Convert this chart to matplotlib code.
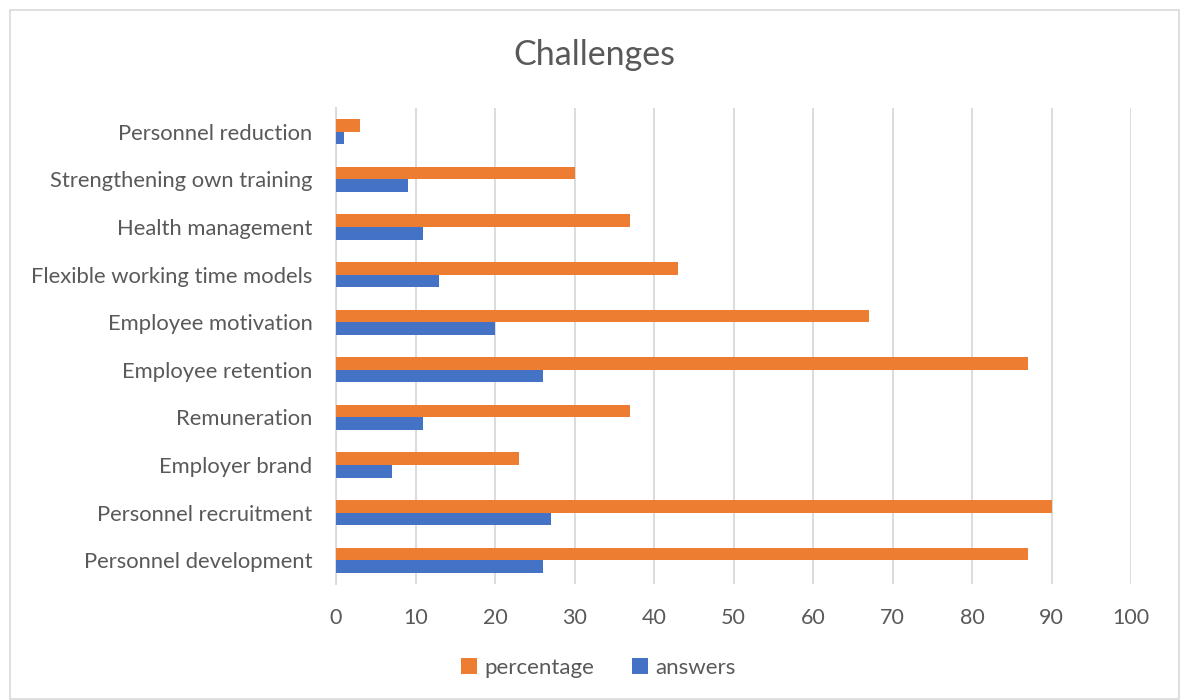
import matplotlib.pyplot as plt
import numpy as np
from matplotlib.patches import Rectangle

plt.rcParams['font.family'] = ['Lato', 'DejaVu Sans']

categories = ['Personnel development', 'Personnel recruitment', 'Employer brand',
              'Remuneration', 'Employee retention', 'Employee motivation',
              'Flexible working time models', 'Health management',
              'Strengthening own training', 'Personnel reduction']
answers = [26, 27, 7, 11, 26, 20, 13, 11, 9, 1]
percentage = [87, 90, 23, 37, 87, 67, 43, 37, 30, 3]

orange = '#ED7D31'
blue = '#4472C4'
grey_txt = '#595959'

fig = plt.figure(figsize=(11.86, 7), dpi=100)
ax = fig.add_axes([336 / 1186, 1 - 584 / 700, (1131 - 336) / 1186, (584 - 108) / 700])

y = np.arange(len(categories))
h = 0.265
ax.barh(y - h / 2, answers, height=h, color=blue, label='answers', zorder=3)
ax.barh(y + h / 2, percentage, height=h, color=orange, label='percentage', zorder=3)

ax.set_xlim(0, 100)
ax.set_ylim(-0.5, len(categories) - 0.5)
ax.set_xticks(range(0, 101, 10))
ax.set_yticks(y)
ax.set_yticklabels(categories)
ax.tick_params(axis='y', length=0, pad=17, labelsize=15.8, labelcolor=grey_txt)
ax.tick_params(axis='x', length=0, pad=17, labelsize=15.5, labelcolor=grey_txt)
ax.grid(axis='x', color='#D9D9D9', linewidth=1.3, zorder=0)
for s in ['top', 'right', 'bottom']:
    ax.spines[s].set_visible(False)
ax.spines['left'].set_color('#D9D9D9')
ax.spines['left'].set_linewidth(1.3)

fig.text(594 / 1186, 1 - 55 / 700, 'Challenges', ha='center', va='center',
         fontsize=24.5, color=grey_txt)

handles, labels = ax.get_legend_handles_labels()
fig.legend(handles[::-1], labels[::-1], loc='center', bbox_to_anchor=(598 / 1186, 1 - 668 / 700),
           ncol=2, frameon=False, fontsize=16, labelcolor=grey_txt,
           handlelength=0.75, handleheight=0.75, handletextpad=0.3, columnspacing=1.7)

# outer chart border
fig.patches.append(Rectangle((10 / 1186, 0.002), 1169 / 1186, 1 - 10 / 700 - 0.002,
                             transform=fig.transFigure, fill=False,
                             edgecolor='#D9D9D9', linewidth=1.2))

fig.savefig('out.png', dpi=100)
